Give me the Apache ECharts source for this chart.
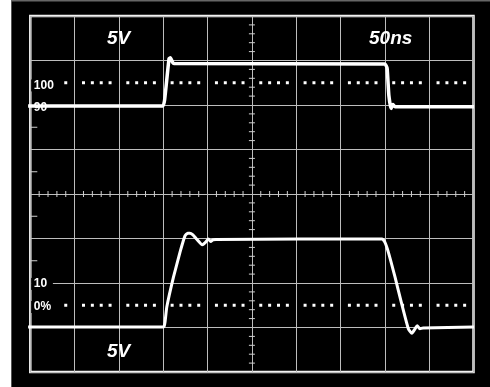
<!DOCTYPE html>
<html>
<head>
<meta charset="utf-8">
<script src="https://cdn.jsdelivr.net/npm/echarts@6/dist/echarts.min.js"></script>
<style>
  html, body { margin: 0; padding: 0; background: #000; }
  #scope { width: 490px; height: 387px; }
</style>
</head>
<body>
<div id="scope"></div>
<script>
// Screen is 10 x 8 divisions; traces are given in divisions (x 0..10, y -4..4).
const ch1Trace = [
  [-0.05, 1.98], [2.99, 1.98], [3.03, 2.11], [3.13, 3.04], [3.16, 3.06],
  [3.21, 2.96], [3.24, 2.93], [8.00, 2.92], [8.05, 2.83], [8.09, 2.22],
  [8.14, 1.92], [8.18, 2.01], [8.23, 1.96], [10.01, 1.96]
];
const ch2Trace = [
  [-0.05, -2.99], [2.98, -2.99], [3.02, -2.97], [3.04, -2.88], [3.08, -2.54],
  [3.23, -1.87], [3.38, -1.30], [3.49, -0.94], [3.55, -0.88], [3.60, -0.88],
  [3.67, -0.92], [3.75, -1.01], [3.88, -1.14], [3.94, -1.10], [4.02, -1.01],
  [4.07, -1.07], [4.12, -1.03], [4.19, -1.02], [7.94, -1.01], [8.00, -1.08],
  [8.08, -1.31], [8.23, -1.87], [8.38, -2.47], [8.53, -3.03], [8.61, -3.13],
  [8.68, -3.03], [8.73, -2.96], [8.79, -3.03], [8.86, -3.01], [10.01, -2.99]
];
// Reference level markings on the left edge (text, y in divisions)
const levelLabels = [
  { text: '100', y: 2.44, bg: [0.02, 0.7] },
  { text: '90',  y: 1.94, bg: null },
  { text: '10',  y: -2.02, bg: [0.02, 0.51] },
  { text: '0%',  y: -2.54, bg: [0.02, 0.7] }
];
// Scale readouts
const readouts = [
  { text: '5V',   x: 107, y: 39 },
  { text: '50ns', x: 369, y: 38.5 },
  { text: '5V',   x: 107, y: 351.5 }
];
const dottedLevels = [2.5, -2.5];
const edgeTickLevels = [1.5, 0.5, -0.5, -1.5];

// Graticule marks: kind 0 = tick on centre horizontal, 1 = tick on centre vertical,
// 2 = left-edge tick, 3 = dot of a dotted reference line
const graticule = [];
for (let k = 1; k < 50; k++) if (k % 5) graticule.push([k / 5, 0, 0]);
for (let k = -19; k < 20; k++) if (k % 5) graticule.push([5, k / 5, 1]);
edgeTickLevels.forEach(v => graticule.push([0, v, 2]));
dottedLevels.forEach(v => {
  for (let k = 1; k < 50; k++) if (k % 5) graticule.push([k / 5, v, 3]);
});

function graticuleItem(params, api) {
  const kind = api.value(2);
  const p = api.coord([api.value(0), api.value(1)]);
  const tick = { stroke: '#d0d0d0', lineWidth: 1 };
  if (kind === 0) return { type: 'line', shape: { x1: p[0], y1: p[1] - 3, x2: p[0], y2: p[1] + 3 }, style: tick };
  if (kind === 1) return { type: 'line', shape: { x1: p[0] - 3, y1: p[1], x2: p[0] + 3, y2: p[1] }, style: tick };
  if (kind === 2) return { type: 'line', shape: { x1: p[0], y1: p[1], x2: p[0] + 7, y2: p[1] }, style: tick };
  return { type: 'rect', shape: { x: p[0] - 1.5, y: p[1] - 1.5, width: 3, height: 3 }, style: { fill: '#fff' } };
}

const chart = echarts.init(document.getElementById('scope'), null, { renderer: 'canvas' });
const font = 'Liberation Sans, Arial, sans-serif';

chart.setOption({
  animation: false,
  backgroundColor: '#000',
  grid: { left: 30.3, right: 16.5, top: 16, bottom: 15, show: true, borderColor: '#f2f2f2', borderWidth: 2.5, backgroundColor: 'transparent' },
  xAxis: {
    type: 'value', min: 0, max: 10, interval: 1,
    axisLine: { show: false }, axisTick: { show: false }, axisLabel: { show: false },
    splitLine: { show: true, lineStyle: { color: '#bdbdbd', width: 1 } }
  },
  yAxis: {
    type: 'value', min: -4, max: 4, interval: 1,
    axisLine: { show: false }, axisTick: { show: false }, axisLabel: { show: false },
    splitLine: { show: true, lineStyle: { color: '#bdbdbd', width: 1 } }
  },
  series: [
    { type: 'custom', renderItem: graticuleItem, data: graticule, z: 2, silent: true, clip: false },
    { type: 'line', data: ch1Trace, showSymbol: false, smooth: 0.15, clip: false, z: 20,
      lineStyle: { color: '#fff', width: 3.5 } },
    { type: 'line', data: ch2Trace, showSymbol: false, smooth: 0.15, clip: false, z: 20,
      lineStyle: { color: '#fff', width: 3 } }
  ]
});

// Left-hand panel edge, frame line and the text overlays
const toPx = (x, y) => chart.convertToPixel({ gridIndex: 0 }, [x, y]);
const elements = [
  { type: 'rect', shape: { x: 0, y: 0, width: 11, height: 387 }, style: { fill: '#fff' }, z: 1 },
  { type: 'rect', shape: { x: 11, y: 0, width: 1, height: 387 }, style: { fill: '#555' }, z: 1 },
  { type: 'rect', shape: { x: 11, y: 0, width: 479, height: 1.5 }, style: { fill: '#666' }, z: 1 }
];
levelLabels.forEach(l => {
  const c = toPx(0.08, l.y);
  if (l.bg) {
    const a = toPx(l.bg[0], l.y), b = toPx(l.bg[1], l.y);
    elements.push({ type: 'rect', shape: { x: a[0], y: c[1] - 6, width: b[0] - a[0], height: 12 }, style: { fill: '#000' }, z: 10 });
  }
  elements.push({ type: 'text', x: c[0], y: c[1], z: 11,
    style: { text: l.text, fill: '#fff', font: 'bold 12px ' + font, textVerticalAlign: 'middle' } });
});
readouts.forEach(r => {
  elements.push({ type: 'text', x: r.x, y: r.y, z: 11,
    style: { text: r.text, fill: '#fff', font: 'italic bold 19px ' + font, textVerticalAlign: 'middle' } });
});
chart.setOption({ graphic: { elements } });
</script>
</body>
</html>
